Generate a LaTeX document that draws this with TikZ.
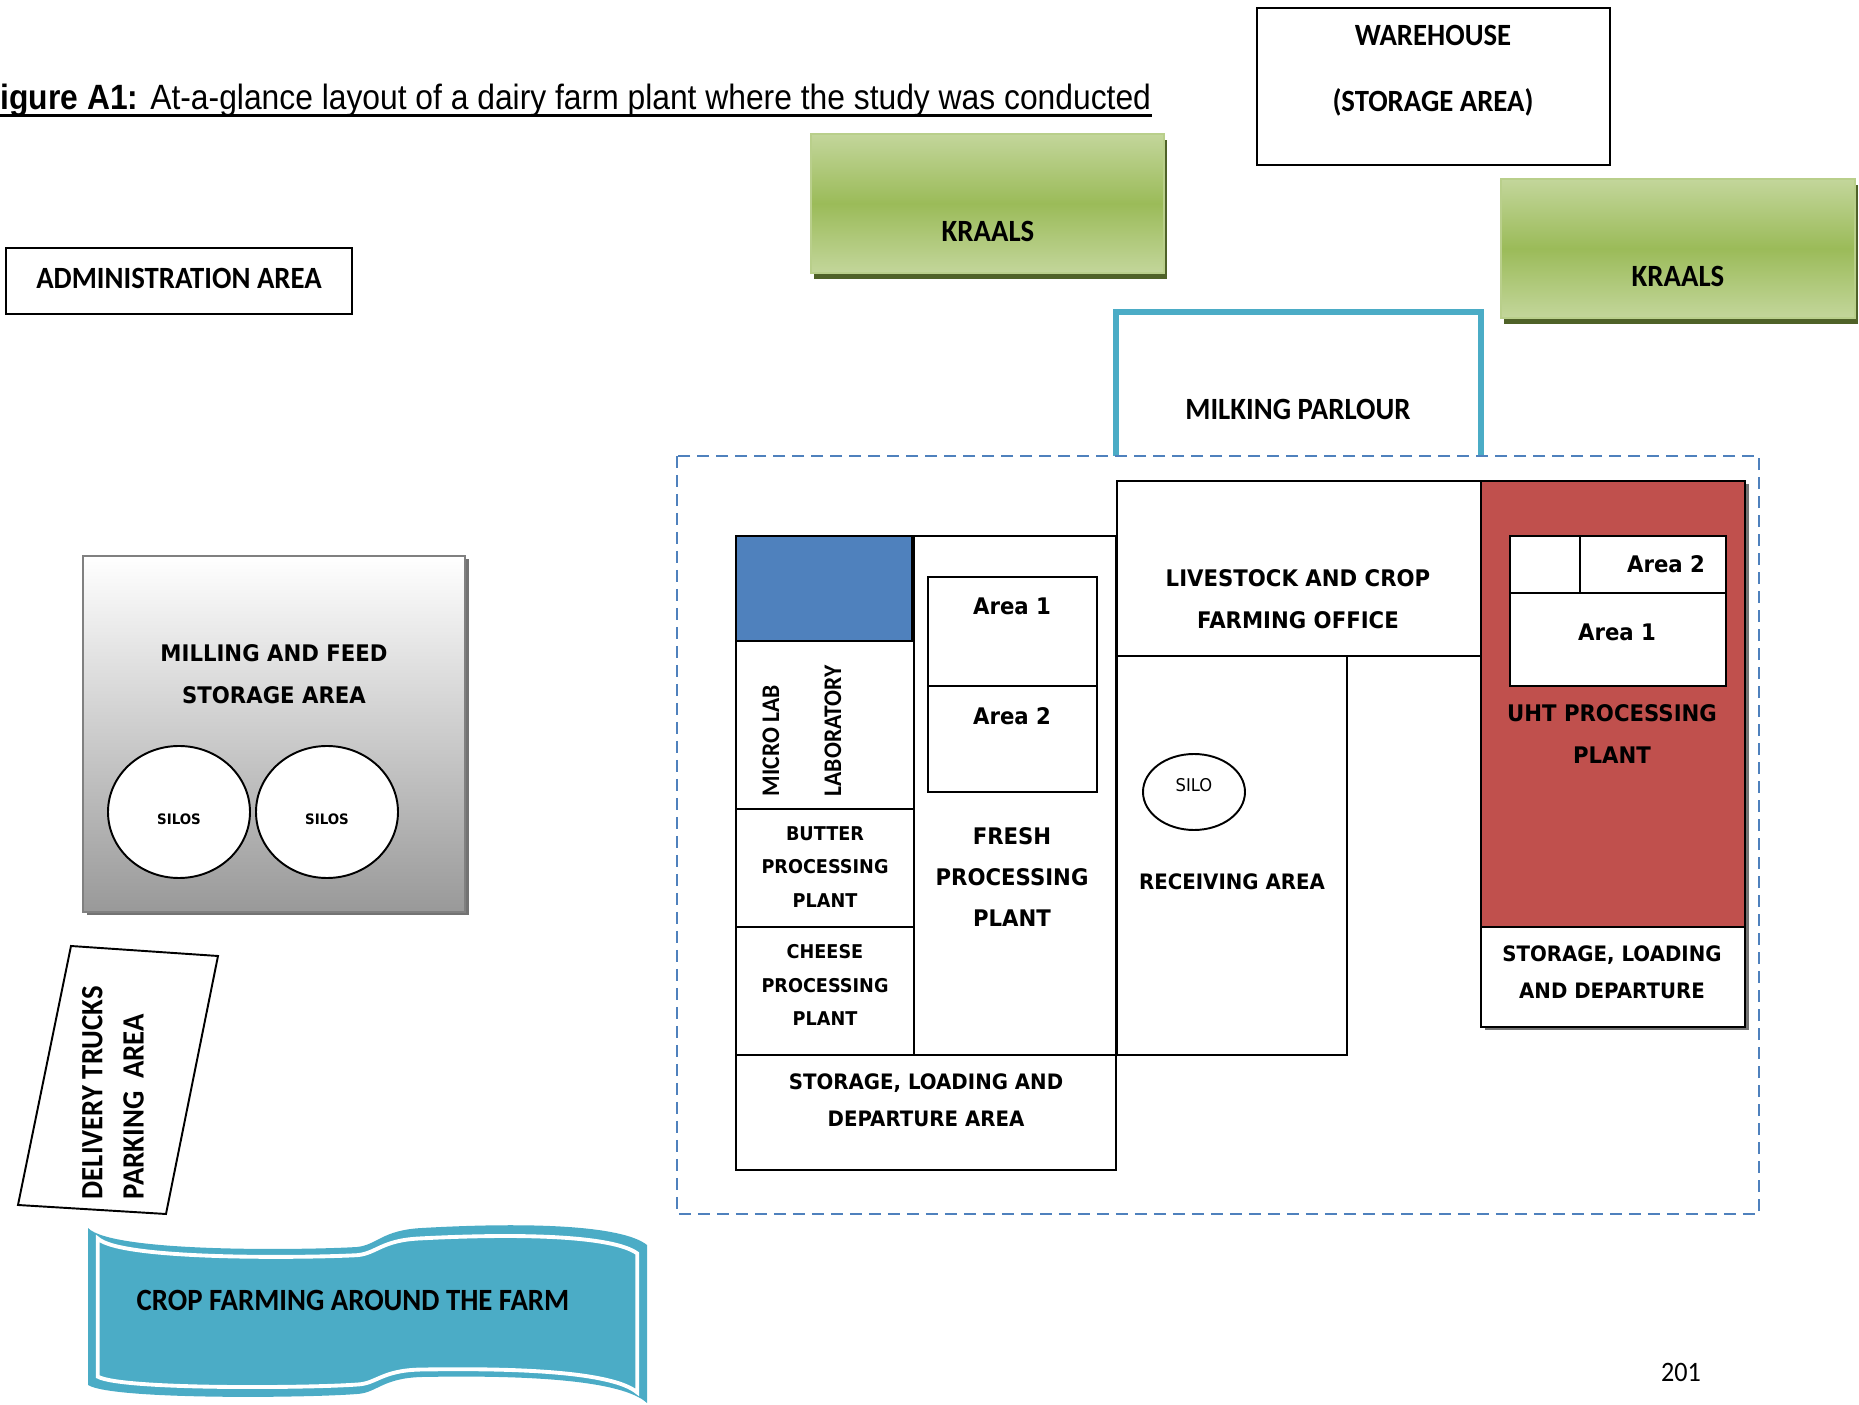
\documentclass[tikz,border=0pt]{standalone}
\usepackage{fontspec}
\usepackage{tikz}
\usetikzlibrary{shadows}
\setmainfont{Liberation Sans}
\newfontfamily\condfont[FakeStretch=0.93]{Carlito}
\newfontfamily\tahfont[FakeStretch=0.93]{DejaVu Sans}
\newfontfamily\narrowfont[FakeStretch=0.905]{Liberation Sans}
\definecolor{kraalgreen}{HTML}{9BBB59}
\definecolor{kraallight}{HTML}{C3D69B}
\definecolor{kraaldark}{HTML}{4F6228}
\definecolor{parlourcyan}{HTML}{4BACC6}
\definecolor{zoneblue}{HTML}{4F81BD}
\definecolor{uhtred}{HTML}{C0504D}

\begin{document}
\begin{tikzpicture}[x=0.1mm, y=-0.1mm,
    box/.style={draw=black, line width=0.55pt, fill=white},
    kraal/.style={draw=kraalgreen!70!white, line width=0.7pt, top color=kraallight, bottom color=kraallight, middle color=kraalgreen,
      drop shadow={shadow xshift=0.3mm, shadow yshift=-0.6mm, fill=kraaldark, opacity=1}},
    greyshadow/.style={drop shadow={shadow xshift=0.35mm, shadow yshift=-0.35mm, fill=black!55, opacity=1}},
    cond/.style={font=\condfont\bfseries\fontsize{8.8}{11.7}\selectfont, align=center, inner sep=0pt},
    tah/.style={font=\tahfont\bfseries\fontsize{6.5}{11.8}\selectfont, align=center, inner sep=0pt},
    tahsmall/.style={font=\tahfont\bfseries\fontsize{6.05}{10.4}\selectfont, align=center, inner sep=0pt},
    tahtiny/.style={font=\tahfont\bfseries\fontsize{5.4}{9.6}\selectfont, align=center, inner sep=0pt},
    zone/.style={draw=zoneblue, line width=0.7pt, dash pattern=on 1.2mm off 0.7mm},
  ]
    \useasboundingbox (0,0) rectangle (1859,1405);

    % Title
    \node[anchor=base west, inner sep=0pt, font=\narrowfont\fontsize{10}{12}\selectfont] (title) at (0,110)
      {\textbf{igure A1:} At-a-glance layout of a dairy farm plant where the study was conducted};
    \draw[line width=0.75pt] ([yshift=-1.5pt]title.base west) -- ([yshift=-1.5pt]title.base east);

    % Warehouse
    \draw[box] (1257,8) rectangle (1610,165);
    \node[cond, font=\condfont\bfseries\fontsize{8.8}{18.8}\selectfont] (warehouse) at (1433,71) {WAREHOUSE\\(STORAGE AREA)};

    % Kraals
    \draw[kraal] (811,134) rectangle (1164,273);
    \node[cond] (kraals1) at (988,231) {KRAALS};
    \draw[kraal] (1501,179) rectangle (1855,318);
    \node[cond] (kraals2) at (1678,276) {KRAALS};

    % Administration area
    \draw[box] (6,248) rectangle (352,314);
    \node[cond] (admin) at (179,278) {ADMINISTRATION AREA};

    % Milking parlour (open at the bottom)
    \draw[parlourcyan, line width=1.7pt] (1116,456) -- (1116,312) -- (1481,312) -- (1481,456);
    \node[cond] (parlour) at (1298,409) {MILKING PARLOUR};

    % Processing zone boundary
    \draw[zone] (677,456) rectangle (1759,1214);

    % Milling and feed storage area with silos
    \draw[draw=gray, line width=0.6pt, top color=white, bottom color=gray!80, greyshadow] (83,556) rectangle (465,912);
    \node[tah] (milling) at (274,674) {MILLING AND FEED\\STORAGE AREA};
    \draw[fill=white, line width=0.55pt] (179,812) ellipse [x radius=71, y radius=66];
    \draw[fill=white, line width=0.55pt] (327,812) ellipse [x radius=71, y radius=66];
    \node[font=\tahfont\bfseries\fontsize{4.1}{5}\selectfont] (silos1) at (179,819) {SILOS};
    \node[font=\tahfont\bfseries\fontsize{4.1}{5}\selectfont] (silos2) at (327,819) {SILOS};

    % Delivery trucks parking
    \draw[box] (71,946) -- (218,956) -- (166,1214) -- (18,1205) -- cycle;
    \node[cond, rotate=90, anchor=west, align=left] (trucks) at (113,1200) {DELIVERY TRUCKS\\PARKING~~AREA};

    % Crop farming banner
    \begin{scope}[shift={(367,1315)}]
      \fill[parlourcyan] (-279,-87) .. controls (-255,-62) and (-60,-65) .. (-10,-68)
        .. controls (10,-70) and (15,-85) .. (55,-87)
        .. controls (160,-93) and (255,-90) .. (280,-70) -- (280,88)
        .. controls (255,65) and (160,60) .. (55,62)
        .. controls (15,63) and (10,78) .. (-10,79)
        .. controls (-60,83) and (-255,85) .. (-279,70) -- cycle;
      \draw[white, line width=1.1pt, xscale=0.965, yscale=0.88] (-279,-87) .. controls (-255,-62) and (-60,-65) .. (-10,-68)
        .. controls (10,-70) and (15,-85) .. (55,-87)
        .. controls (160,-93) and (255,-90) .. (280,-70) -- (280,88)
        .. controls (255,65) and (160,60) .. (55,62)
        .. controls (15,63) and (10,78) .. (-10,79)
        .. controls (-60,83) and (-255,85) .. (-279,70) -- cycle;
    \end{scope}
    \node[cond] (crop) at (353,1300) {CROP FARMING AROUND THE FARM};

    % Micro lab, butter and cheese column
    \draw[box, fill=zoneblue] (736,536) rectangle (912,641);
    \draw[box] (736,641) rectangle (914,809);
    \node[cond, rotate=90, anchor=west, font=\condfont\bfseries\fontsize{7.2}{8}\selectfont] (microlab) at (771,797) {MICRO LAB};
    \node[cond, rotate=90, anchor=west, font=\condfont\bfseries\fontsize{7.2}{8}\selectfont] (laboratory) at (833,797) {LABORATORY};
    \draw[box] (736,809) rectangle (914,927);
    \node[tahtiny] (butter) at (825,867) {BUTTER\\PROCESSING\\PLANT};
    \draw[box] (736,927) rectangle (914,1055);
    \node[tahtiny] (cheese) at (825,985) {CHEESE\\PROCESSING\\PLANT};

    % Fresh processing plant
    \draw[box] (914,536) rectangle (1116,1055);
    \draw[box] (928,577) rectangle (1097,686);
    \draw[box] (928,686) rectangle (1097,792);
    \node[tah] (fresh1) at (1012,606) {Area 1};
    \node[tah] (fresh2) at (1012,716) {Area 2};
    \node[tah] (fresh) at (1012,877) {FRESH\\PROCESSING\\PLANT};

    % Storage, loading and departure (left)
    \draw[box] (736,1055) rectangle (1116,1170);
    \node[tahsmall] (storage1) at (926,1100) {STORAGE, LOADING AND\\DEPARTURE AREA};

    % Livestock office and receiving area
    \draw[box] (1117,481) rectangle (1481,656);
    \node[tah] (office) at (1298,599) {LIVESTOCK AND CROP\\FARMING OFFICE};
    \draw[box] (1117,656) rectangle (1347,1055);
    \draw[fill=white, line width=0.55pt] (1194,792) ellipse [x radius=51, y radius=38];
    \node[font=\tahfont\fontsize{5}{6}\selectfont] (silo) at (1194,785) {SILO};
    \node[tahsmall] (receiving) at (1232,882) {RECEIVING AREA};

    % UHT processing plant
    \draw[box, fill=uhtred, greyshadow] (1481,481) rectangle (1745,927);
    \draw[box] (1510,536) rectangle (1726,686);
    \draw[line width=0.55pt] (1510,593) -- (1726,593);
    \draw[line width=0.55pt] (1580,536) -- (1580,593);
    \node[tah] (uht2) at (1666,564) {Area 2};
    \node[tah] (uht1) at (1617,632) {Area 1};
    \node[tah] (uht) at (1612,734) {UHT PROCESSING\\PLANT};
    \draw[box, greyshadow] (1481,927) rectangle (1745,1027);
    \node[tahsmall] (storage2) at (1612,972) {STORAGE, LOADING\\AND DEPARTURE};

    % Page number
    \node[font=\condfont\fontsize{8}{10}\selectfont] (page) at (1681,1372) {201};
\end{tikzpicture}
\end{document}
